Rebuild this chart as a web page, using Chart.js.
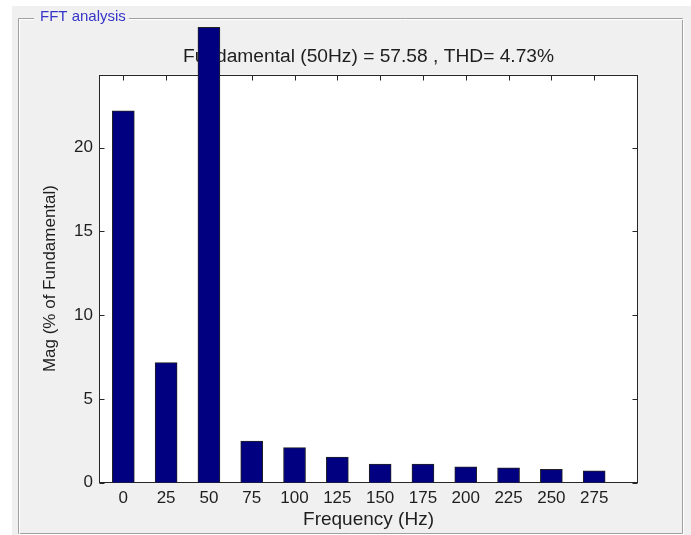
<!DOCTYPE html>
<html>
<head>
<meta charset="utf-8">
<script src="https://cdn.jsdelivr.net/npm/chart.js@4/dist/chart.umd.min.js"></script>
<style>
  html, body { margin: 0; padding: 0; background: #ffffff; overflow: hidden; }
  #wrap { width: 691px; height: 535px; position: relative; }
</style>
</head>
<body>
<div id="wrap"><canvas id="fft"></canvas></div>
<script>
// Harmonic spectrum, magnitude in % of the fundamental
const frequencies = [0, 25, 50, 75, 100, 125, 150, 175, 200, 225, 250, 275];
const magnitudes  = [22.21, 7.16, 27.19, 2.48, 2.08, 1.52, 1.10, 1.10, 0.94, 0.87, 0.79, 0.70];
const xTickValues = [0, 25, 50, 75, 100, 125, 150, 175, 200, 225, 250, 275];
const yTickValues = [0, 5, 10, 15, 20];
const xRange = [-14.2, 300.6];
const yRange = [0, 24.37];
const panelLabel = 'FFT analysis';
const titleText  = 'Fundamental (50Hz) = 57.58 , THD= 4.73%';
const xAxisTitle = 'Frequency (Hz)';
const yAxisTitle = 'Mag (% of Fundamental)';

const FONT = "'Liberation Sans', Arial, sans-serif";
const INK = '#1e1e1e';

// Window background, group box and white axes face
const panelPlugin = {
  id: 'panel',
  beforeDraw(chart) {
    const { ctx, chartArea: a } = chart;
    ctx.save();
    ctx.fillStyle = '#ffffff';
    ctx.fillRect(0, 0, chart.width, chart.height);
    ctx.fillStyle = '#f0f0f0';
    ctx.fillRect(12, 6, chart.width - 12, chart.height - 6);

    // group box frame (dark line + light highlight)
    ctx.font = '15px ' + FONT;
    const labelX = 40;
    const labelW = ctx.measureText(panelLabel).width;
    const drawFrame = (off, color) => {
      ctx.strokeStyle = color;
      ctx.lineWidth = 1;
      ctx.beginPath();
      ctx.moveTo(labelX - 6, 18.5 + off);
      ctx.lineTo(18.5 + off, 18.5 + off);
      ctx.lineTo(18.5 + off, 533.5 + off);
      ctx.lineTo(682.5 + off, 533.5 + off);
      ctx.lineTo(682.5 + off, 18.5 + off);
      ctx.lineTo(labelX + labelW + 3, 18.5 + off);
      ctx.stroke();
    };
    drawFrame(0, '#a0a0a0');
    drawFrame(1, '#ffffff');
    ctx.fillStyle = '#3535c8';
    ctx.textBaseline = 'middle';
    ctx.textAlign = 'left';
    ctx.fillText(panelLabel, labelX, 17);

    ctx.fillStyle = '#ffffff';
    ctx.fillRect(a.left, a.top, a.right - a.left, a.bottom - a.top);
    ctx.restore();
  },
  // Box around the axes with inward tick marks on all four sides
  beforeDatasetsDraw(chart) {
    const { ctx, chartArea: a, scales: { x, y } } = chart;
    const L = Math.round(a.left) + 0.5, R = Math.round(a.right) - 0.5;
    const T = Math.round(a.top) + 0.5, B = Math.round(a.bottom) - 0.5;
    ctx.save();
    ctx.strokeStyle = '#262626';
    ctx.lineWidth = 1;
    ctx.strokeRect(L, T, R - L, B - T);
    const len = 5;
    ctx.beginPath();
    xTickValues.forEach(v => {
      const px = Math.round(x.getPixelForValue(v)) + 0.5;
      ctx.moveTo(px, B); ctx.lineTo(px, B - len);
      ctx.moveTo(px, T); ctx.lineTo(px, T + len);
    });
    yTickValues.forEach(v => {
      const py = Math.round(y.getPixelForValue(v)) + 0.5;
      ctx.moveTo(L, py); ctx.lineTo(L + len, py);
      ctx.moveTo(R, py); ctx.lineTo(R - len, py);
    });
    ctx.stroke();
    ctx.restore();
  }
};

new Chart(document.getElementById('fft'), {
  type: 'bar',
  data: {
    datasets: [{
      data: frequencies.map((f, i) => ({ x: f, y: magnitudes[i] })),
      backgroundColor: '#000080',
      borderColor: '#222222',
      borderWidth: 1,
      barThickness: 22,
      clip: false
    }]
  },
  options: {
    responsive: true,
    maintainAspectRatio: false,
    animation: false,
    events: [],
    layout: { padding: { left: 0, right: 53, top: 0, bottom: 0 } },
    plugins: {
      legend: { display: false },
      tooltip: { enabled: false },
      title: {
        display: true,
        text: titleText,
        fullSize: false,
        color: INK,
        font: { family: FONT, size: 19.2, weight: 'normal' },
        padding: { top: 45, bottom: 6.6 }
      }
    },
    scales: {
      x: {
        type: 'linear',
        offset: false,
        min: xRange[0],
        max: xRange[1],
        grid: { display: false, drawTicks: false, offset: false },
        border: { display: false },
        afterBuildTicks(scale) { scale.ticks = xTickValues.map(v => ({ value: v })); },
        afterFit(scale) { scale.height = 52.5; },
        ticks: {
          color: INK,
          padding: 5.5,
          maxRotation: 0,
          autoSkip: false,
          font: { family: FONT, size: 17 },
          callback: v => String(v)
        },
        title: {
          display: true,
          text: xAxisTitle,
          color: INK,
          font: { family: FONT, size: 19 },
          padding: { top: 0, bottom: 3.6 }
        }
      },
      y: {
        min: yRange[0],
        max: yRange[1],
        grid: { display: false, drawTicks: false },
        border: { display: false },
        afterBuildTicks(scale) { scale.ticks = yTickValues.map(v => ({ value: v })); },
        afterFit(scale) { scale.width = 99; },
        ticks: {
          color: INK,
          padding: 6,
          font: { family: FONT, size: 17 },
          callback: v => String(v)
        },
        title: {
          display: true,
          text: yAxisTitle,
          color: INK,
          font: { family: FONT, size: 17 },
          padding: { top: 39.8, bottom: 0 }
        }
      }
    }
  },
  plugins: [panelPlugin]
});
</script>
</body>
</html>
